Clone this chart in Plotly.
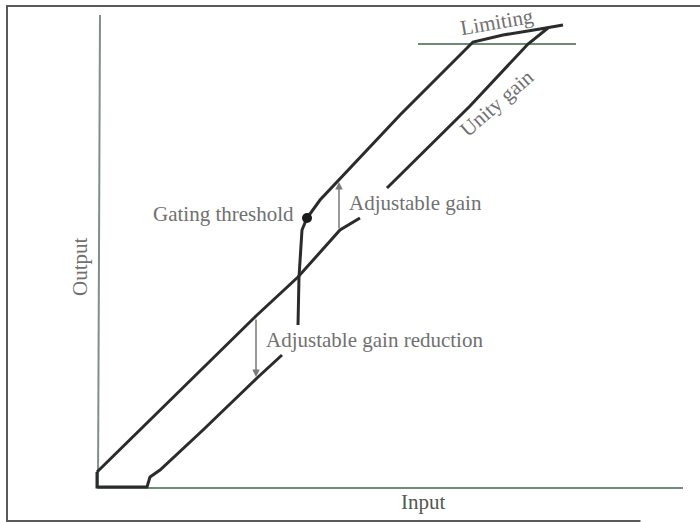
import plotly.graph_objects as go

# ---- data (input, output units; origin at the axes corner) ----
unity_in = [0, 53, 118, 159, 201, 243, 263, None, 290, 320, 373, 431, 451]
unity_out = [15, 67, 131, 171, 210, 257, 269, None, 299, 329, 381, 443, 459]

reduction_in = [0, 0, 50, 53, 63, 106, 160, 185]
reduction_out = [15, 0, 0, 10, 17, 57, 109, 132]

gated_in = [201, 202, 205, 210, 223, 241, 260, 303, 376, 406, 443, 466]
gated_out = [162, 210, 257, 269, 287, 306, 327, 372, 445, 452, 458, 462]

threshold_in = [210]
threshold_out = [269]

limit_ref_in = [321, 479]
limit_ref_out = [443, 443]

x_axis_in = [0, 586]
x_axis_out = [-1, -1]
y_axis_in = [1, 3]
y_axis_out = [0, 472]

gain_arrow = dict(x=242, tail=257, head=305)
reduction_arrow = dict(x=159, tail=169, head=110)

labels = [
    dict(text="Limiting", x=400, y=465, angle=-10, xanchor="center"),
    dict(text="Unity gain", x=400, y=384, angle=-41, xanchor="center"),
    dict(text="Gating threshold", x=199, y=273, angle=0, xanchor="right"),
    dict(text="Adjustable gain", x=250, y=284, angle=0, xanchor="left"),
    dict(text="Adjustable gain reduction", x=167, y=147, angle=0, xanchor="left"),
    dict(text="Input", x=326, y=-15, angle=0, xanchor="center"),
    dict(text="Output", x=-17, y=220, angle=-90, xanchor="center"),
]

LINE = "#2b2b2b"
AXIS = "#6f8a78"
TEXT = "#707070"
FONT = "Liberation Serif"

fig = go.Figure()

# axes lines
fig.add_trace(go.Scatter(x=x_axis_in, y=x_axis_out, mode="lines",
                         line=dict(color=AXIS, width=2), hoverinfo="skip"))
fig.add_trace(go.Scatter(x=y_axis_in, y=y_axis_out, mode="lines",
                         line=dict(color="#7e9088", width=2), hoverinfo="skip"))
# limiting reference
fig.add_trace(go.Scatter(x=limit_ref_in, y=limit_ref_out, mode="lines",
                         line=dict(color=AXIS, width=2), hoverinfo="skip"))

for xs, ys in [(unity_in, unity_out), (reduction_in, reduction_out), (gated_in, gated_out)]:
    fig.add_trace(go.Scatter(x=xs, y=ys, mode="lines",
                             line=dict(color=LINE, width=3), connectgaps=False,
                             hoverinfo="skip"))

fig.add_trace(go.Scatter(x=threshold_in, y=threshold_out, mode="markers",
                         marker=dict(color="#1a1a1a", size=10), hoverinfo="skip"))

for arr in (gain_arrow, reduction_arrow):
    fig.add_annotation(x=arr["x"], y=arr["head"], ax=arr["x"], ay=arr["tail"],
                       xref="x", yref="y", axref="x", ayref="y",
                       text="", showarrow=True, arrowhead=2, arrowsize=1,
                       arrowwidth=1.5, arrowcolor="#7a7a7a")

for lb in labels:
    fig.add_annotation(x=lb["x"], y=lb["y"], xref="x", yref="y", text=lb["text"],
                       showarrow=False, textangle=lb["angle"], xanchor=lb["xanchor"],
                       yanchor="middle",
                       font=dict(family=FONT, size=21,
                                 color="#4f5a50" if lb["text"] == "Input" else TEXT))

# frame (scan border)
fig.add_shape(type="path", xref="paper", yref="paper",
              path="M 1,0.9885 L 0.01,0.9885 L 0.01,0.002 L 0.915,0.002",
              line=dict(color="#5a5a5a", width=2))

fig.update_layout(
    width=700, height=522,
    margin=dict(l=0, r=0, t=0, b=0),
    paper_bgcolor="white", plot_bgcolor="white",
    showlegend=False,
    xaxis=dict(range=[-97, 603], visible=False, fixedrange=True),
    yaxis=dict(range=[-35, 487], visible=False, fixedrange=True),
)

fig.write_html("out.html", config={"displayModeBar": False},
               post_script="document.body.style.margin='0';")
